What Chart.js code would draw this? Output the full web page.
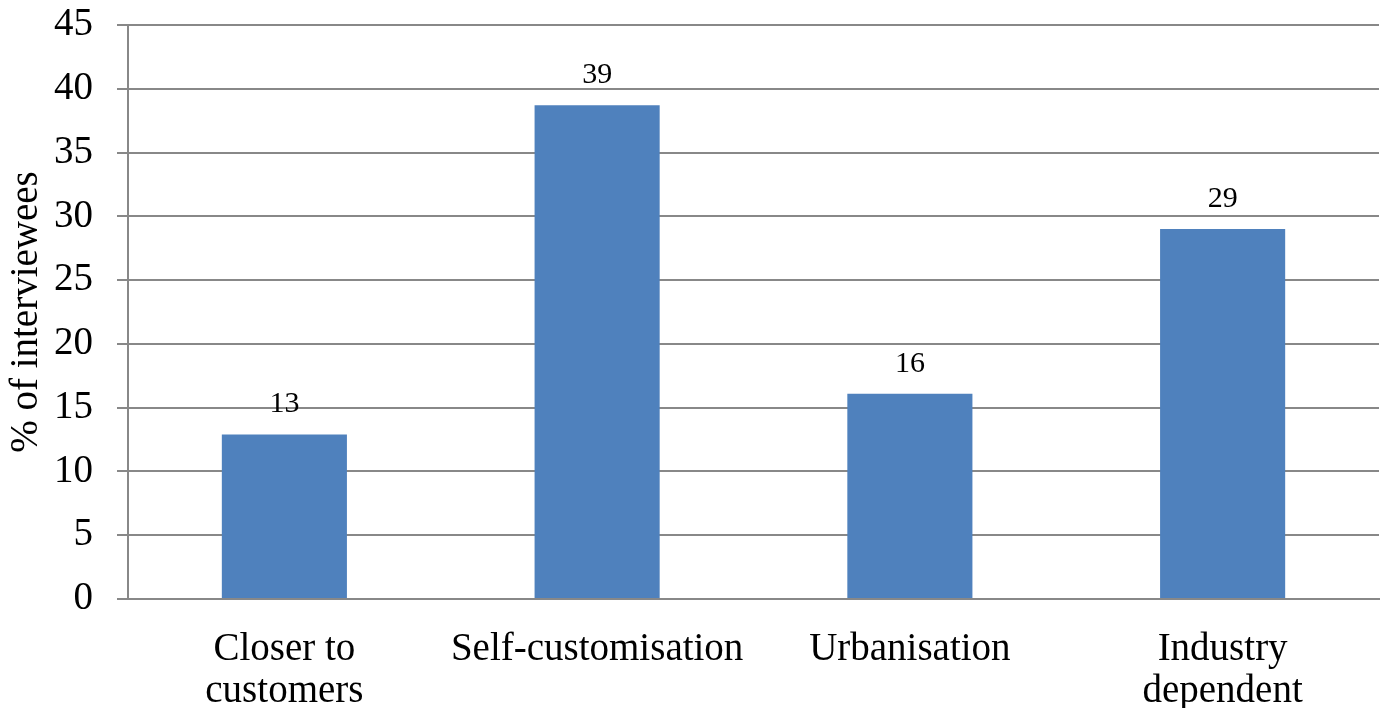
<!DOCTYPE html>
<html>
<head>
<meta charset="utf-8">
<script src="https://cdn.jsdelivr.net/npm/chart.js"></script>
<style>
  body { margin: 0; background: #fff; }
  #wrap { width: 1387px; height: 708px; }
</style>
</head>
<body>
<div id="wrap"><canvas id="mychart" width="1387" height="708"></canvas></div>
<script>
// data
const categories = [['Closer to', 'customers'], 'Self-customisation', 'Urbanisation', ['Industry', 'dependent']];
const values = [12.9, 38.7, 16.1, 29.0];
const valueLabels = ['13', '39', '16', '29'];
const yTicks = [0, 5, 10, 15, 20, 25, 30, 35, 40, 45];

const serif = "'Liberation Serif', 'Times New Roman', serif";
const gridGray = '#888888';

Chart.defaults.font.family = serif;
Chart.defaults.color = '#000';

// labels above the bars
const barLabels = {
  id: 'barLabels',
  afterDatasetsDraw(chart) {
    let ctx = chart.ctx;
    let meta = chart.getDatasetMeta(0);
    ctx.save();
    ctx.font = '30px ' + serif;
    ctx.fillStyle = '#000';
    ctx.textAlign = 'center';
    ctx.textBaseline = 'alphabetic';
    meta.data.forEach((bar, i) => {
      ctx.fillText(valueLabels[i], bar.x, bar.y - 22);
    });
    ctx.restore();
  }
};

const ctx = document.getElementById('mychart');
new Chart(ctx, {
  type: 'bar',
  data: {
    labels: categories,
    datasets: [{
      data: values,
      backgroundColor: '#4f81bd',
      borderWidth: 0,
      barPercentage: 0.4,
      categoryPercentage: 1.0
    }]
  },
  options: {
    responsive: false,
    animation: false,
    layout: { padding: { top: 25, right: 8, left: 0, bottom: 0 } },
    plugins: {
      legend: { display: false },
      tooltip: { enabled: false }
    },
    scales: {
      x: {
        grid: { display: false, drawTicks: false },
        border: { display: true, color: gridGray, width: 2 },
        ticks: {
          font: { size: 39, lineHeight: 1.08 },
          color: '#000',
          padding: 30,
          maxRotation: 0,
          autoSkip: false
        },
        afterFit: (s) => { s.height = 109; }
      },
      y: {
        min: 0,
        max: 45,
        afterBuildTicks: (s) => { s.ticks = yTicks.map(v => ({ value: v })); },
        grid: { color: gridGray, lineWidth: 2, tickLength: 11 },
        border: { display: true, color: gridGray, width: 2 },
        ticks: {
          font: { size: 39 },
          color: '#000',
          padding: 24
        },
        title: {
          display: true,
          text: '% of interviewees',
          font: { size: 39 },
          color: '#000',
          padding: { top: 3, bottom: 0 }
        },
        afterFit: (s) => {
          s.width = 128;
          // tick padding otherwise pushes the plot down
          s.paddingTop = 0;
          s.paddingBottom = 0;
        }
      }
    }
  },
  plugins: [barLabels]
});
</script>
</body>
</html>
